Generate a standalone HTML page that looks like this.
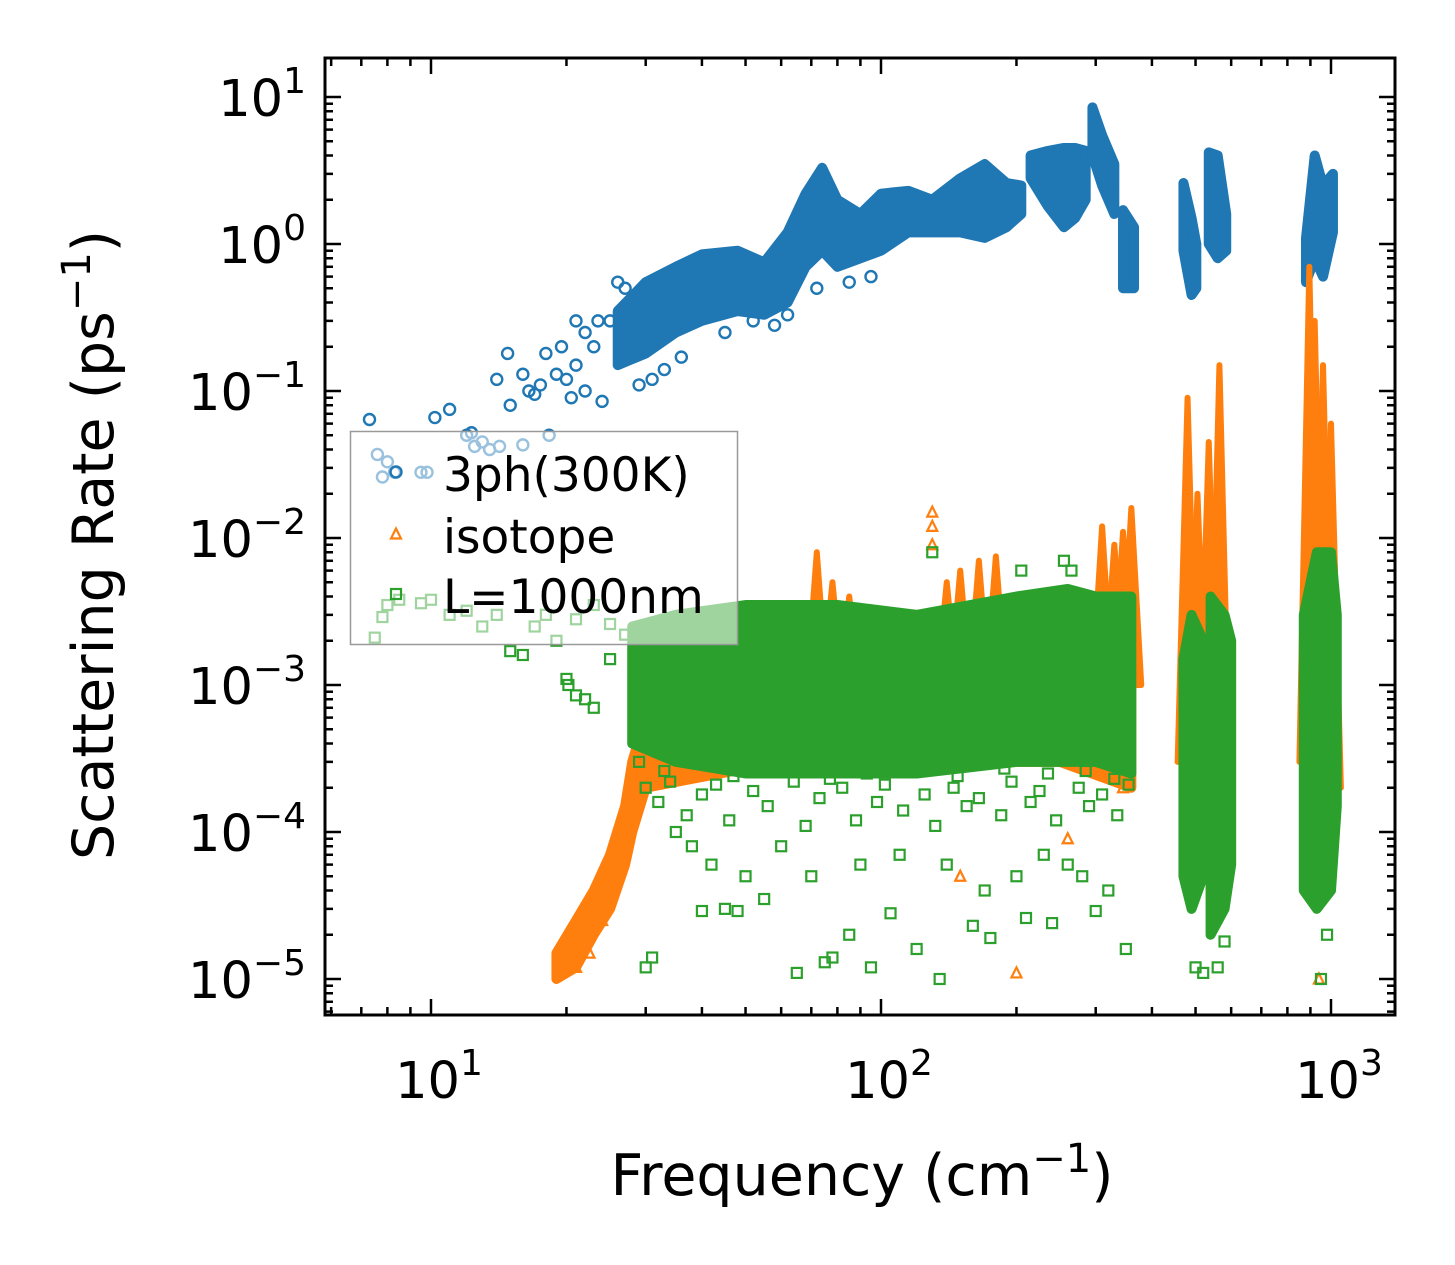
<!DOCTYPE html>
<html><head><meta charset="utf-8"><style>
html,body{margin:0;padding:0;background:#fff;}
svg{display:block;font-family:"DejaVu Sans","Liberation Sans",sans-serif;}
</style></head><body>
<svg id="chart" width="1455" height="1265" viewBox="0 0 1455 1265" xmlns="http://www.w3.org/2000/svg">
<rect x="0" y="0" width="1455" height="1265" fill="#fff"/>
<defs><clipPath id="plotclip"><rect x="325" y="58" width="1070" height="957"/></clipPath></defs>
<g id="data" clip-path="url(#plotclip)"></g>
<g id="axes"></g>
</svg>
<script>
// ---- data ----
const xTickValues = [10, 100, 1000];
const xTickExps = ["1", "2", "3"];
const yTickValues = [10, 1, 0.1, 0.01, 0.001, 0.0001, 0.00001];
const yTickExps = ["1", "0", "\u22121", "\u22122", "\u22123", "\u22124", "\u22125"];

// dense clouds: [freq, lowRate, highRate]
const blueBands = [
 [[26,0.15,0.35],[30,0.18,0.55],[35,0.25,0.7],[40,0.3,0.85],[48,0.35,0.9],[55,0.33,0.75],[62,0.4,1.2],[68,0.7,2.2],[74,0.9,3.3],[80,0.7,2],[90,0.8,1.6],[100,0.9,2.2],[115,1.2,2.3],[130,1.2,2],[150,1.2,2.8],[170,1.1,3.5],[190,1.3,2.6],[205,1.6,2.5]],
 [[215,2.8,4],[235,1.8,4.3],[255,1.3,4.5],[270,1.5,4.5],[285,2,4.3]],
 [[295,4,8.5],[310,2.5,5.5],[330,1.6,3.5]],
 [[345,0.5,1.7],[365,0.5,1.3]],
 [[470,0.9,2.6],[490,0.45,1.5],[502,0.5,1]],
 [[535,1,4.2],[560,0.8,4],[585,0.9,1.6]],
 [[880,0.55,1.1],[920,0.8,4],[960,0.6,2.5],[1010,1.2,3]]
];
const blueFreq = [7.3,10.2,11,12,12.3,14,14.8,16,16.5,17,18,17.5,19,20,20.5,21,22,23,23.5,25,22,21,19.5,15,24,26,27,29,31,33,36,45,52,58,62,65,72,85,95];
const blueRate = [0.064,0.066,0.075,0.05,0.052,0.12,0.18,0.13,0.1,0.095,0.18,0.11,0.13,0.12,0.09,0.15,0.1,0.2,0.3,0.3,0.25,0.3,0.2,0.08,0.085,0.55,0.5,0.11,0.12,0.14,0.17,0.25,0.3,0.28,0.33,0.6,0.5,0.55,0.6];
const blueFadedFreq = [7.6,8,7.8,8.3,9.5,9.8,12.5,13,13.5,14.2,16,18.3];
const blueFadedRate = [0.037,0.033,0.026,0.028,0.028,0.028,0.042,0.045,0.04,0.042,0.043,0.05];

const orangeBands = [
 [[19,1e-5,1.5e-5],[21,1.2e-5,2.5e-5],[23,2e-5,4e-5],[25,3e-5,7e-5],[27,6e-5,1.5e-4],[28,1e-4,3e-4],[30,2e-4,6e-4],[60,3e-4,3e-3],[120,3e-4,3e-3],[250,3e-4,3e-3],[360,2e-4,4e-3]]
];
// spikes: [freq, lowRate, peakRate]
const orangeSpikes = [[72,1e-3,8e-3],[78,1e-3,5e-3],[85,1e-3,4e-3],[115,1e-3,3e-3],[140,1e-3,5e-3],[150,1e-3,6e-3],[165,1e-3,7e-3],[180,1e-3,7.5e-3],[310,1e-3,1.2e-2],[330,1e-3,9e-3],[345,1e-3,1.1e-2],[360,1e-3,1.6e-2],[480,3e-4,0.09],[505,3e-4,0.02],[535,3e-4,0.045],[565,3e-4,0.15],[895,3e-4,0.7],[920,3e-4,0.3],[960,3e-4,0.15],[1000,2e-4,0.06]];
const orangeFreq = [130,130,130,200,940,150,260,305,345,20,21,22.5,24];
const orangeRate = [0.015,0.012,0.009,1.1e-5,1e-5,5e-5,9e-5,3e-4,2e-4,1.6e-5,1.2e-5,1.5e-5,2.5e-5];

const greenBands = [
 [[28,4e-4,2.5e-3],[35,3e-4,3e-3],[50,2.5e-4,3.5e-3],[80,2.5e-4,3.5e-3],[120,2.5e-4,3e-3],[200,3e-4,4e-3],[260,3e-4,4.5e-3],[300,3e-4,4e-3],[360,2.5e-4,4e-3]],
 [[470,5e-5,1.5e-3],[490,3e-5,3e-3],[520,5e-5,2e-3]],
 [[540,2e-5,4e-3],[580,3e-5,3e-3],[600,6e-5,2e-3]],
 [[870,4e-5,3e-3],[930,3e-5,8e-3],[1000,4e-5,8e-3],[1030,1.5e-4,3e-3]]
];
const greenFreq = [25,20,20.2,21,22,23,30,31,40,45,48,55,65,75,78,85,95,105,120,135,160,175,210,240,260,300,350,35,38,42,50,60,70,90,110,140,170,200,230,280,320,130,205,255,265,500,520,560,580,950,980,
 30,32,34,37,40,43,46,52,56,64,68,73,82,88,98,102,112,125,132,145,155,165,185,195,215,225,245,275,290,310,335,355,29,33,47,58,77,93,118,148,188,235,285,330];
const greenRate = [0.0015,0.0011,0.001,0.00085,0.0008,0.0007,1.2e-5,1.4e-5,2.9e-5,3e-5,2.9e-5,3.5e-5,1.1e-5,1.3e-5,1.4e-5,2e-5,1.2e-5,2.8e-5,1.6e-5,1e-5,2.3e-5,1.9e-5,2.6e-5,2.4e-5,6e-5,2.9e-5,1.6e-5,1e-4,8e-5,6e-5,5e-5,8e-5,5e-5,6e-5,7e-5,6e-5,4e-5,5e-5,7e-5,5e-5,4e-5,8e-3,6e-3,7e-3,6e-3,1.2e-5,1.1e-5,1.2e-5,1.8e-5,1e-5,2e-5,
 2e-4,1.6e-4,2.2e-4,1.3e-4,1.8e-4,2.1e-4,1.2e-4,1.9e-4,1.5e-4,2.2e-4,1.1e-4,1.7e-4,2e-4,1.2e-4,1.6e-4,2.1e-4,1.4e-4,1.8e-4,1.1e-4,2e-4,1.5e-4,1.7e-4,1.3e-4,2.2e-4,1.6e-4,1.9e-4,1.2e-4,2e-4,1.5e-4,1.8e-4,1.3e-4,2.1e-4,3e-4,2.6e-4,2.4e-4,2.7e-4,2.3e-4,2.5e-4,2.6e-4,2.4e-4,2.7e-4,2.5e-4,2.6e-4,2.3e-4];
const greenFadedFreq = [7.5,7.8,8,8.5,9.5,10,11,12,13,14,15,16,17,18,19,21,23,25,27];
const greenFadedRate = [0.0021,0.0029,0.0035,0.0038,0.0036,0.0038,0.003,0.0032,0.0025,0.003,0.0017,0.0016,0.0025,0.003,0.002,0.0028,0.0035,0.0026,0.0022];

// ---- scales ----
const X0=431, XD=450, Y0=97, YD=147;
function sx(f){return X0+(Math.log10(f)-1)*XD;}
function sy(r){return Y0+(1-Math.log10(r))*YD;}
const NS="http://www.w3.org/2000/svg";
const gData=document.getElementById('data');
const gAxes=document.getElementById('axes');
function mk(tag,attrs,parent){const e=document.createElementNS(NS,tag);for(const k in attrs)e.setAttribute(k,attrs[k]);parent.appendChild(e);return e;}

const C={b:"#1f77b4",o:"#ff7f0e",g:"#2ca02c"};

function drawBands(bands,color,name){
 bands.forEach(seg=>{
  const top=seg.map(p=>sx(p[0])+","+sy(p[2]));
  const bot=seg.slice().reverse().map(p=>sx(p[0])+","+sy(p[1]));
  const e=mk('polygon',{points:top.concat(bot).join(' '),fill:color,stroke:color,'stroke-width':10,'stroke-linejoin':'round'},gData);
  
  
 });
}
function drawSpikes(sp,color){
 sp.forEach(s=>{
  const f=s[0],w=0.022;
  const pts=[[f*Math.pow(10,-w),s[1]],[f,s[2]],[f*Math.pow(10,w),s[1]]].map(p=>sx(p[0])+","+sy(p[1])).join(' ');
  const e=mk('polygon',{points:pts,fill:color,stroke:color,'stroke-width':6,'stroke-linejoin':'round'},gData);
  
  
 });
}
function marker(kind,x,y,color,parent,op){
 let e;
 if(kind==='c') e=mk('circle',{cx:x,cy:y,r:5.5,fill:'none',stroke:color,'stroke-width':2.4,opacity:op},parent);
 else if(kind==='t') e=mk('polygon',{points:`${x},${y-5.5} ${x+5},${y+4.5} ${x-5},${y+4.5}`,fill:'none',stroke:color,'stroke-width':2.2,opacity:op},parent);
 else e=mk('rect',{x:x-5,y:y-5,width:10,height:10,fill:'none',stroke:color,'stroke-width':2.2,opacity:op},parent);
 return e;
}
function drawPts(fs,rs,kind,color,name){
 fs.forEach((f,i)=>{
  const e=marker(kind,sx(f),sy(rs[i]),color,gData,1);
  
  
 });
}
drawBands(blueBands,C.b,'3ph-cloud');
drawPts(blueFreq,blueRate,'c',C.b,'3ph-point');
drawPts(blueFadedFreq,blueFadedRate,'c',C.b,'3ph-point');
drawBands(orangeBands,C.o,'isotope-cloud');
drawSpikes(orangeSpikes,C.o);
drawPts(orangeFreq,orangeRate,'t',C.o,'isotope-point');
drawBands(greenBands,C.g,'boundary-cloud');
drawPts(greenFreq,greenRate,'s',C.g,'boundary-point');
drawPts(greenFadedFreq,greenFadedRate,'s',C.g,'boundary-point');

// ---- legend ----
const lg=mk('g',{},gAxes);


mk('rect',{x:350.5,y:431.5,width:387,height:213,fill:'#fff','fill-opacity':0.55,stroke:'#999','stroke-width':1.5},lg);
const legItems=[["3ph(300K)",'c',C.b,476],["isotope",'t',C.o,538],["L=1000nm",'s',C.g,598]];
legItems.forEach(it=>{
 const m=marker(it[1],396,it[3]-4,it[2],lg,1);
 
 
 const t=mk('text',{x:443,y:it[3]+15,'font-size':47,fill:'#000'},lg);
 t.textContent=it[0];
 
 
});

// ---- axes ----
const L=325,R=1395,T=58,B=1015;
const fr=mk('rect',{x:L,y:T,width:R-L,height:B-T,fill:'none',stroke:'#000','stroke-width':3},gAxes);


function line(x1,y1,x2,y2){mk('line',{x1,y1,x2,y2,stroke:'#000','stroke-width':2.5},gAxes);}
for(let d=0;d<4;d++){for(let m=1;m<10;m++){
 const f=m*Math.pow(10,d); const x=sx(f); if(x<L+2||x>R-2)continue;
 const len=m===1?16:8; line(x,B,x,B-len); line(x,T,x,T+len);
}}
for(let d=-6;d<2;d++){for(let m=1;m<10;m++){
 const r=m*Math.pow(10,d); const y=sy(r); if(y<T+2||y>B-2)continue;
 const len=m===1?16:8; line(L,y,L+len,y); line(R,y,R-len,y);
}}
xTickValues.forEach((v,i)=>{
 const t=mk('text',{x:sx(v)+8,y:1098,'font-size':51,'text-anchor':'middle',fill:'#000'},gAxes);
 t.innerHTML='10<tspan dy="-23" font-size="36">'+xTickExps[i]+'</tspan>';
 
 
});
yTickValues.forEach((v,i)=>{
 const t=mk('text',{x:306,y:sy(v)+19,'font-size':51,'text-anchor':'end',fill:'#000'},gAxes);
 t.innerHTML='10<tspan dy="-23" font-size="36">'+yTickExps[i]+'</tspan>';
 
 
});
const xt=mk('text',{x:862,y:1195,'font-size':57,'text-anchor':'middle',fill:'#000'},gAxes);
xt.innerHTML='Frequency (cm<tspan dy="-23" font-size="40">\u22121</tspan><tspan dy="23">)</tspan>';


const yt=mk('text',{x:0,y:0,'font-size':57,'text-anchor':'middle',fill:'#000',transform:'translate(113,545) rotate(-90)'},gAxes);
yt.innerHTML='Scattering Rate (ps<tspan dy="-23" font-size="40">\u22121</tspan><tspan dy="23">)</tspan>';


</script>
</body></html>
